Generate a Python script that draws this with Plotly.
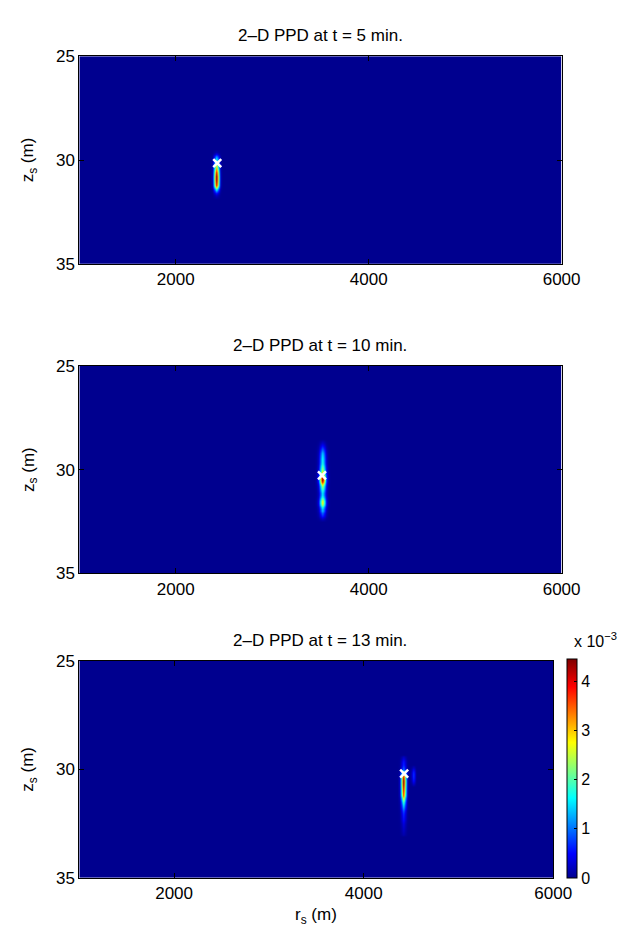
import numpy as np
import plotly.graph_objects as go

# ---------------- data ----------------
titles = ["2–D PPD at t = 5 min.", "2–D PPD at t = 10 min.", "2–D PPD at t = 13 min."]
r_min, r_max, r_step = 1000, 6000, 20
z_min, z_max, z_step = 25.0, 35.0, 0.1
x_ticks = [2000, 4000, 6000]
y_ticks = [25, 30, 35]
cbar_ticks = [0, 1e-3, 2e-3, 3e-3, 4e-3]
cbar_ticktext = ["0", "1", "2", "3", "4"]

# source (true) positions marked with white crosses
true_r = [2430, 3516, 4427]
true_z = [30.15, 30.28, 30.2]

# blob centre range for each panel
blob_r = [2420, 3520, 4420]
# peak PPD of each panel
peak_ppd = [5.0e-3, 2.6e-3, 4.45e-3]
# horizontal profile across a blob (offsets in m, relative weight)
h_offsets_1 = [-40, -20, 0, 20, 40]
h_weights_1 = [0.05, 0.5, 1.0, 0.5, 0.05]
h_offsets_2 = [-60, -40, -20, 0, 20, 40, 60]
h_weights_2 = [0.03, 0.15, 0.6, 1.0, 0.6, 0.15, 0.03]
h_offsets_3 = [-40, -20, 0, 20, 40]
h_weights_3 = [0.05, 0.45, 1.0, 0.45, 0.05]

# vertical profiles (depth, relative PPD)
z_prof_1 = [29.6, 29.7, 29.8, 29.9, 30.0, 30.1, 30.2, 30.3, 30.4, 30.5, 30.6, 30.7,
            30.8, 30.9, 31.0, 31.1, 31.2, 31.3, 31.4, 31.5, 31.6, 31.7, 31.8]
v_prof_1 = [0.03, 0.1, 0.25, 0.35, 0.4, 0.45, 0.55, 0.62, 0.7, 0.8, 0.9, 0.95,
            1.0, 1.0, 0.97, 0.93, 0.88, 0.65, 0.4, 0.25, 0.12, 0.05, 0.02]
z_prof_2 = [28.6, 28.7, 28.8, 28.9, 29.0, 29.1, 29.2, 29.3, 29.4, 29.5, 29.6, 29.7, 29.8, 29.9,
            30.0, 30.1, 30.2, 30.3, 30.4, 30.5, 30.6, 30.7, 30.8, 30.9, 31.0, 31.1,
            31.2, 31.3, 31.4, 31.5, 31.6, 31.7, 31.8, 31.9, 32.0, 32.1, 32.2, 32.3, 32.4]
v_prof_2 = [0.03, 0.06, 0.1, 0.15, 0.2, 0.25, 0.3, 0.33, 0.35, 0.37, 0.38, 0.4, 0.45, 0.5,
            0.55, 0.62, 0.7, 0.85, 0.95, 1.0, 0.9, 0.7, 0.55, 0.45, 0.4, 0.35,
            0.35, 0.4, 0.5, 0.6, 0.62, 0.55, 0.4, 0.32, 0.3, 0.22, 0.15, 0.08, 0.03]
z_prof_3 = [29.4, 29.5, 29.6, 29.7, 29.8, 29.9, 30.0, 30.1, 30.2, 30.3, 30.4, 30.5, 30.6, 30.7,
            30.8, 30.9, 31.0, 31.1, 31.2, 31.3, 31.4, 31.5, 31.6, 31.7, 31.8, 31.9,
            32.0, 32.1, 32.2, 32.3, 32.4, 32.5, 32.6, 32.7, 32.8, 32.9, 33.0]
v_prof_3 = [0.05, 0.08, 0.12, 0.14, 0.15, 0.2, 0.25, 0.45, 0.65, 0.85, 0.95, 1.0, 1.0, 0.98,
            0.95, 0.92, 0.9, 0.85, 0.8, 0.65, 0.55, 0.45, 0.35, 0.3, 0.25, 0.2,
            0.17, 0.15, 0.13, 0.12, 0.1, 0.08, 0.07, 0.06, 0.05, 0.04, 0.03]
# faint secondary ridge in panel 3
side_r_3 = 4520
side_z_3 = [29.9, 30.0, 30.1, 30.2, 30.3, 30.4, 30.5, 30.6, 30.7]
side_v_3 = [0.05, 0.1, 0.14, 0.16, 0.16, 0.15, 0.12, 0.08, 0.04]
side_offsets_3 = [-20, 0, 20]
side_weights_3 = [0.3, 1.0, 0.3]

h_offsets = [h_offsets_1, h_offsets_2, h_offsets_3]
h_weights = [h_weights_1, h_weights_2, h_weights_3]
z_profs = [z_prof_1, z_prof_2, z_prof_3]
v_profs = [v_prof_1, v_prof_2, v_prof_3]

# ---------------- build grids ----------------
r_grid = np.arange(r_min, r_max + r_step / 2, r_step)
z_grid = np.round(np.arange(z_min, z_max + z_step / 2, z_step), 1)


def ridx(r):
    return int(round((r - r_min) / r_step))


def zidx(z):
    return int(round((z - z_min) / z_step))


grids = []
for k in range(3):
    g = np.zeros((len(z_grid), len(r_grid)))
    for zz, vv in zip(z_profs[k], v_profs[k]):
        for off, w in zip(h_offsets[k], h_weights[k]):
            g[zidx(zz), ridx(blob_r[k] + off)] = peak_ppd[k] * vv * w
    if k == 2:
        for zz, vv in zip(side_z_3, side_v_3):
            for off, w in zip(side_offsets_3, side_weights_3):
                i, j = zidx(zz), ridx(side_r_3 + off)
                g[i, j] = max(g[i, j], peak_ppd[k] * vv * w)
    grids.append(g)

jet = [[0.0, "rgb(0,0,143)"], [0.111, "rgb(0,0,255)"], [0.365, "rgb(0,255,255)"],
       [0.619, "rgb(255,255,0)"], [0.873, "rgb(255,0,0)"], [1.0, "rgb(128,0,0)"]]

W, H = 637, 932
left_px = 73.5
right_px = [570.6, 570.6, 562.0]
top_px = [40, 356, 657]
bot_px = [252, 568, 879]

font_family = "Liberation Sans, Arial, sans-serif"
FS = 17
fig = go.Figure()

for k in range(3):
    xa = "x" if k == 0 else f"x{k + 1}"
    ya = "y" if k == 0 else f"y{k + 1}"
    hm = dict(
        x=r_grid, y=z_grid, z=grids[k], colorscale=jet, zmin=0, zmax=peak_ppd[k],
        xaxis=xa, yaxis=ya, showscale=(k == 2), zsmooth="best",
    )
    if k == 2:
        hm["colorbar"] = dict(
            x=576 / W, xanchor="left", xpad=0, ypad=0,
            y=1 - bot_px[2] / H, yanchor="bottom",
            len=(bot_px[2] - 655) / H, lenmode="fraction",
            thickness=10, outlinecolor="black", outlinewidth=1,
            tickvals=cbar_ticks, ticktext=cbar_ticktext, ticks="inside", ticklen=3,
            tickcolor="black",
            tickfont=dict(size=16, color="black", family=font_family),
        )
    fig.add_trace(go.Heatmap(**hm))
    fig.add_trace(go.Scatter(
        x=[true_r[k]], y=[true_z[k]], mode="markers", xaxis=xa, yaxis=ya,
        marker=dict(symbol="x-thin", size=8, line=dict(color="white", width=2.5)),
        showlegend=False, hoverinfo="skip",
    ))

    axis_common = dict(showline=True, linecolor="black", linewidth=1, mirror="ticks",
                       ticks="inside", ticklen=5, tickcolor="black", showgrid=False,
                       zeroline=False, tickfont=dict(size=FS, color="black", family=font_family))
    xdom = [left_px / W, right_px[k] / W]
    ydom = [1 - bot_px[k] / H, 1 - top_px[k] / H]
    fig.layout[f"xaxis{'' if k == 0 else k + 1}"] = dict(
        domain=xdom, range=[r_min, r_max], tickvals=x_ticks, anchor=ya, **axis_common)
    fig.layout[f"yaxis{'' if k == 0 else k + 1}"] = dict(
        domain=ydom, range=[z_max, z_min], tickvals=y_ticks, anchor=xa, **axis_common)

    fig.add_annotation(
        text=titles[k], xref="paper", yref="paper",
        x=(left_px + right_px[0]) / 2 / W, y=1 - (top_px[k] - 21) / H,
        xanchor="center", yanchor="middle", showarrow=False,
        font=dict(size=FS, color="black", family=font_family),
    )
    fig.add_annotation(
        text="z<sub>s</sub> (m)", xref="paper", yref="paper",
        x=22 / W, y=1 - (top_px[k] + bot_px[k]) / 2 / H, textangle=-90,
        xanchor="center", yanchor="middle", showarrow=False,
        font=dict(size=FS, color="black", family=font_family),
    )

fig.add_annotation(
    text="r<sub>s</sub> (m)", xref="paper", yref="paper",
    x=(left_px + right_px[2]) / 2 / W, y=1 - 918 / H,
    xanchor="center", yanchor="middle", showarrow=False,
    font=dict(size=FS, color="black", family=font_family),
)
fig.add_annotation(
    text="x 10<sup>−3</sup>", xref="paper", yref="paper",
    x=606 / W, y=1 - 636 / H, xanchor="center", yanchor="middle", showarrow=False,
    font=dict(size=16, color="black", family=font_family),
)

fig.update_layout(
    width=W, height=H, margin=dict(l=0, r=0, t=0, b=0),
    paper_bgcolor="white", plot_bgcolor="white", showlegend=False,
)

fig.write_html("out.html")
